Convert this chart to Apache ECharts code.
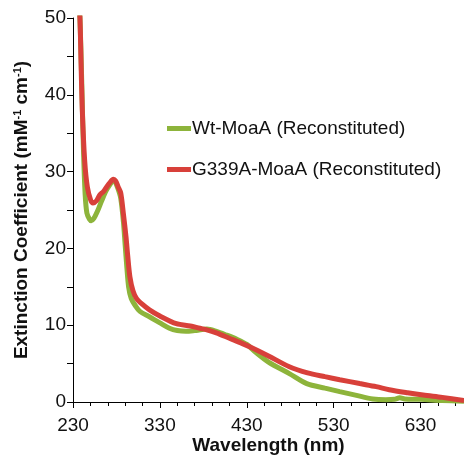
<!DOCTYPE html>
<html>
<head>
<meta charset="utf-8">
<script src="https://cdn.jsdelivr.net/npm/echarts@6/dist/echarts.min.js"></script>
<style>
html,body{margin:0;padding:0;background:#fff;}
#chart{width:464px;height:455px;}
</style>
</head>
<body>
<div id="chart"></div>
<script>
var seriesNames = ['Wt-MoaA (Reconstituted)', 'G339A-MoaA (Reconstituted)'];
var wtWavelength = [236,238,240,242,244,246,249,251,254,258,263,268,273,276,278,282,285,288,290,292,294,297,302,307,318,330,341,350,360,370,384,395,407,418,430,440,455,479,499,520,537,555,575,590,600,606,612,630,655,680];
var wtValues =     [54,50,42,33,27,24.6,23.8,23.6,23.9,24.8,26.2,27.5,28.4,28.9,28.8,27.7,26.5,23.5,20.5,17.5,15,13.5,12.5,11.8,11.1,10.3,9.6,9.3,9.2,9.3,9.5,9.2,8.7,8.2,7.5,6.5,5.2,3.7,2.4,1.8,1.35,0.9,0.4,0.3,0.35,0.55,0.4,0.35,0.2,0.1];
var g339Wavelength = [236,238,239.2,240.7,243.4,246.5,250.3,253,257,261,265,268.7,272,276.4,279,282,285,288,291,293,295.5,299,303,310,318,330,349,365,376,384,395,410,425,437,455,479,500,520,537,560,579,594,615,633,655,680];
var g339Values =     [54,50,44.5,38,31.5,28,26.3,25.9,26.2,27,27.4,28,28.5,29.0,28.8,28,27.2,24.5,21.5,19,16.3,14.5,13.5,12.7,12,11.2,10.2,9.9,9.6,9.4,9,8.3,7.6,7,6,4.6,3.8,3.3,2.9,2.4,2,1.6,1.2,0.9,0.6,0.2];
var xMajorTicks = [230,330,430,530,630];
var xMinorTicks = [230,250,270,290,310,330,350,370,390,410,430,450,470,490,510,530,550,570,590,610,630,650,670];
var yTicks = [0,10,20,30,40,50];

function pairs(xs, ys){ return xs.map(function(x,i){ return [x, ys[i]]; }); }

var FONT = '"Liberation Sans", Arial, Helvetica, sans-serif';
var chart = echarts.init(document.getElementById('chart'), null, {renderer:'canvas'});
chart.setOption({
  animation: false,
  backgroundColor: '#fff',
  grid: {left: 73, top: 18, right: 0, bottom: 53, containLabel: false, outerBoundsMode: 'none'},
  legend: {
    orient: 'vertical', left: 167, top: 119, itemGap: 22, padding: 0,
    itemWidth: 24, itemHeight: 5, icon: 'rect',
    textStyle: {fontFamily: FONT, fontSize: 19, color: '#111', padding: [0,0,0,-4]},
    data: seriesNames
  },
  xAxis: [{
    type: 'value', min: 230, max: 680,
    axisLine: {show: true, lineStyle: {color: '#000', width: 1}},
    axisTick: {show: true, length: 6, customValues: xMajorTicks, lineStyle: {color: '#000'}},
    axisLabel: {customValues: xMajorTicks, margin: 14, fontFamily: FONT, fontSize: 19, color: '#111', hideOverlap: false},
    splitLine: {show: false},
    name: 'Wavelength (nm)', nameLocation: 'middle', nameGap: 34, nameMoveOverlap: false,
    nameTextStyle: {fontFamily: FONT, fontSize: 19, fontWeight: 'bold', color: '#111'}
  }, {
    type: 'value', min: 230, max: 680, position: 'bottom', offset: 0,
    axisLine: {show: false},
    axisTick: {show: true, length: 4, customValues: xMinorTicks, lineStyle: {color: '#000'}},
    axisLabel: {show: false},
    splitLine: {show: false}
  }],
  yAxis: {
    type: 'value', min: 0, max: 50, interval: 10,
    axisLine: {show: true, lineStyle: {color: '#000', width: 1}},
    axisTick: {show: true, length: 6, lineStyle: {color: '#000'}},
    minorTick: {show: true, splitNumber: 2, length: 6, lineStyle: {color: '#000'}},
    axisLabel: {margin: 7, fontFamily: FONT, fontSize: 19, color: '#111'},
    splitLine: {show: false},
    name: '{b|Extinction Coefficient (mM}{s|-1}{b| cm}{s|-1}{b|)}',
    nameLocation: 'middle', nameGap: 42, nameRotate: 90, nameMoveOverlap: false,
    nameTextStyle: {
      fontFamily: FONT, fontSize: 19, fontWeight: 'bold', color: '#111',
      rich: {
        b: {fontFamily: FONT, fontSize: 19, fontWeight: 'bold', color: '#111'},
        s: {fontFamily: FONT, fontSize: 11, fontWeight: 'bold', color: '#111', verticalAlign: 'top', padding: [0,0,8,0]}
      }
    }
  },
  series: [{
    name: seriesNames[0], type: 'line', data: pairs(wtWavelength, wtValues),
    showSymbol: false, smooth: 0.3, clip: true,
    lineStyle: {color: '#8db43b', width: 5}, itemStyle: {color: '#8db43b'}
  }, {
    name: seriesNames[1], type: 'line', data: pairs(g339Wavelength, g339Values),
    showSymbol: false, smooth: 0.3, clip: true,
    lineStyle: {color: '#d8403a', width: 5}, itemStyle: {color: '#d8403a'}
  }]
});
</script>
</body>
</html>
